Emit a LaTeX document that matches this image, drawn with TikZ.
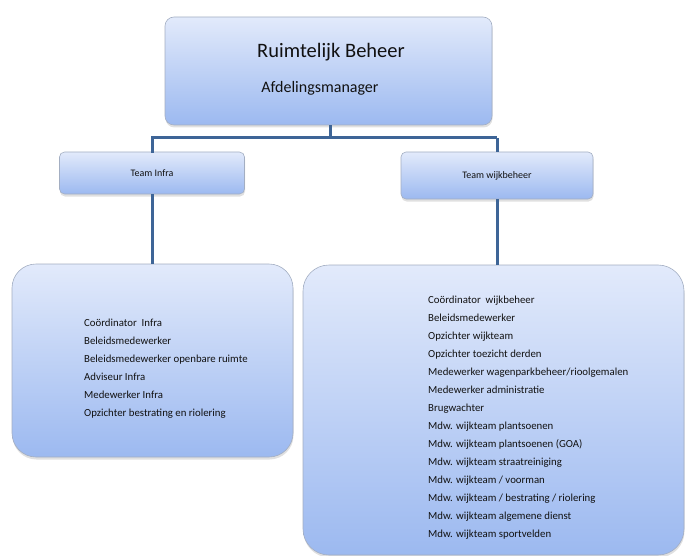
\documentclass[tikz,border=0pt]{standalone}
\usepackage{fontspec}
\setmainfont{Carlito}
\usetikzlibrary{shadows}
\definecolor{topc}{HTML}{E2EAFB}
\definecolor{botc}{HTML}{9CB9F0}
\definecolor{edgec}{HTML}{A3AEC2}
\definecolor{linec}{HTML}{3E6597}
\definecolor{txt}{HTML}{111111}
\tikzset{
  box/.style={draw=edgec, line width=0.6pt, top color=topc, bottom color=botc,
    drop shadow={opacity=0.35, shadow xshift=0.5pt, shadow yshift=-2.5pt, fill=gray!70},
    inner sep=0pt, text=txt},
  conn/.style={draw=linec, line width=3pt},
  listtext/.style={anchor=north west, align=left, inner sep=0pt, text=txt,
    font=\fontsize{10.8}{18}\selectfont}
}
\begin{document}
\begin{tikzpicture}[x=1pt,y=-1pt]
\useasboundingbox (0,0) rectangle (687,556);
\coordinate (j) at (330,138);
\coordinate (jl) at (152,138);
\coordinate (jr) at (497,138);
% boxes
\node[box, rounded corners=9pt, minimum width=327pt, minimum height=108pt] (top) at (328.5,71) {};
\node[box, rounded corners=5pt, minimum width=185pt, minimum height=42pt] (infra) at (152,173) {};
\node[box, rounded corners=5pt, minimum width=192pt, minimum height=47pt] (wijk) at (497,175.5) {};
\node[box, rounded corners=24pt, minimum width=281pt, minimum height=193pt] (lbox) at (152.5,360.5) {};
\node[box, rounded corners=26pt, minimum width=381pt, minimum height=290pt] (rbox) at (493.5,410) {};
% lines
\draw[conn] (top.south -| j) -- (j);
\draw[conn] (jl) -- (jr);
\draw[conn, line cap=rect] (jl) -- (infra.north -| jl);
\draw[conn] (jr) -- (wijk.north -| jr);
\draw[conn] (infra.south -| jl) -- (lbox.north -| jl);
\draw[conn] (wijk.south -| jr) -- (rbox.north -| jr);
% texts
\node[text=txt, font=\fontsize{20.5}{24}\selectfont] (t1) at (331,52) {Ruimtelijk Beheer};
\node[text=txt, font=\fontsize{16}{19}\selectfont] (t2) at (320,88) {Afdelingsmanager};
\node[text=txt, font=\fontsize{10}{12}\selectfont] (ti) at (infra) {Team Infra};
\node[text=txt, font=\fontsize{10}{12}\selectfont] (tw) at (wijk) {Team wijkbeheer};
\node[listtext] (ll) at (84,319) {Coördinator\ \ Infra\\
Beleidsmedewerker\\
Beleidsmedewerker openbare ruimte\\
Adviseur Infra\\
Medewerker Infra\\
Opzichter bestrating en riolering};
\node[listtext] (rl) at (428,296) {Coördinator\ \ wijkbeheer\\
Beleidsmedewerker\\
Opzichter wijkteam\\
Opzichter toezicht derden\\
Medewerker wagenparkbeheer/rioolgemalen\\
Medewerker administratie\\
Brugwachter\\
Mdw. wijkteam plantsoenen\\
Mdw. wijkteam plantsoenen (GOA)\\
Mdw. wijkteam straatreiniging\\
Mdw. wijkteam / voorman\\
Mdw. wijkteam / bestrating / riolering\\
Mdw. wijkteam algemene dienst\\
Mdw. wijkteam sportvelden};
\end{tikzpicture}
\end{document}
